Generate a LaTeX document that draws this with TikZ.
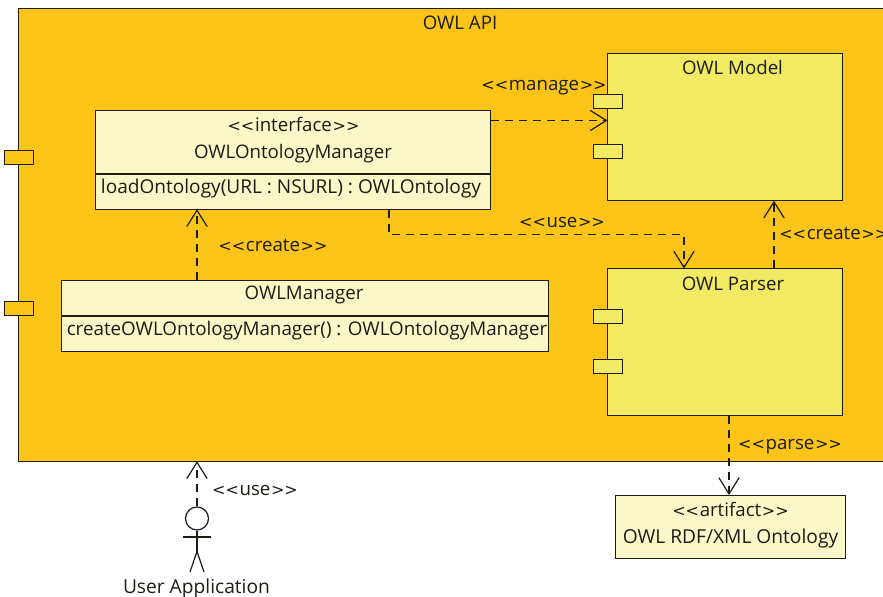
\documentclass[tikz,border=0pt]{standalone}
\usepackage{fontspec}
\setmainfont{Open Sans}
\newfontfamily\anglefont{DejaVu Sans}
\usetikzlibrary{arrows.meta}
\definecolor{apiorange}{HTML}{FBC419}
\definecolor{compyellow}{HTML}{F2EA63}
\definecolor{classyellow}{HTML}{FAF8C8}
\definecolor{ink}{HTML}{1C1C14}
\newcommand{\stereo}[1]{{\anglefont\fontsize{12}{14}\selectfont<{}<}\kern0.5pt#1\kern0.5pt{\anglefont\fontsize{12}{14}\selectfont>{}>}}
\tikzset{
  x=0.75pt,y=-0.75pt,
  every node/.style={font=\fontsize{14}{16}\selectfont,text=ink,inner sep=0pt},
  bx/.style={draw=ink,line width=0.9pt,anchor=north west,minimum width=#1*0.75pt},
  comp/.style={bx=235,fill=compyellow,minimum height=147*0.75pt},
  port/.style={draw=ink,line width=0.9pt,anchor=north west,minimum width=29*0.75pt,minimum height=14*0.75pt},
  dep/.style={draw=ink,line width=0.9pt,dash pattern=on 6pt off 4.5pt,-{Straight Barb[length=12pt,width=15pt,line width=0.9pt,round]}},
  lbl/.style={anchor=base},
  fig/.style={draw=ink,line width=0.9pt}
}
\begin{document}
\begin{tikzpicture}
\useasboundingbox (0,1) rectangle (883,598);
\clip (0,1) rectangle (883,598);
\node[bx=890,fill=apiorange,minimum height=453*0.75pt] (api) at (18,8.5) {};
\node[port,fill=apiorange] (p1) at (4,151) {};
\node[port,fill=apiorange] (p2) at (4,302) {};
\node[lbl] (apit) at (460,30) {OWL API};
% interface
\node[bx=395,fill=classyellow,minimum height=63*0.75pt] (ifh) at (95,110.5) {};
\node[bx=395,fill=classyellow,minimum height=36*0.75pt] (ifb) at (95,173.5) {};
\draw[ink,line width=1.8pt] (ifh.south west) -- (ifh.south east);
\node[lbl] (ift) at (293.5,132) {\stereo{interface}};
\node[lbl] (ifn) at (293,159) {OWLOntologyManager};
\node[lbl,font=\fontsize{14.3}{16}\selectfont] (ifm) at (291,194) {loadOntology(URL : NSURL) : OWLOntology};
% manager
\node[bx=487,fill=classyellow,minimum height=35*0.75pt] (mh) at (61,280.5) {};
\node[bx=487,fill=classyellow,minimum height=36*0.75pt] (mb) at (61,315.5) {};
\draw[ink,line width=1.8pt] (mh.south west) -- (mh.south east);
\node[lbl] (mn) at (304,300) {OWLManager};
\node[lbl,font=\fontsize{14.1}{16}\selectfont] (mm) at (307,336) {createOWLOntologyManager() : OWLOntologyManager};
% components
\node[comp] (model) at (607,54) {};
\node[port,fill=compyellow] (mp1) at (593,94.5) {};
\node[port,fill=compyellow] (mp2) at (593,144.5) {};
\node[lbl] (modelt) at (732.5,75) {OWL Model};
\node[comp] (parser) at (607,269) {};
\node[port,fill=compyellow] (pp1) at (593,310) {};
\node[port,fill=compyellow] (pp2) at (593,359.5) {};
\node[lbl] (parsert) at (733,291) {OWL Parser};
% artifact
\node[bx=230,fill=classyellow,minimum height=63*0.75pt] (art) at (615,495.5) {};
\node[lbl] (artt) at (730.5,517) {\stereo{artifact}};
\node[lbl,font=\fontsize{14.4}{16}\selectfont] (artn) at (730.5,544) {OWL RDF/XML Ontology};
% actor
\node[circle,draw=ink,line width=0.9pt,minimum size=23*0.75pt] (head) at (197,519.5) {};
\coordinate (hip) at (197,552.5);
\draw[fig] (head.south) -- (hip);
\draw[fig] (183,538) -- (211,538);
\draw[fig] (190,573) -- (hip) -- (204,573);
\node[lbl,font=\fontsize{14.4}{16}\selectfont] (actor) at (196.5,594) {User Application};
% connectors
\coordinate (bend1) at (389,235.5);
\coordinate (bend2) at (684,235.5);
\draw[dep] (ifh.east |- 0,121.5) -- (model.west |- 0,121.5);
\draw[dep] (ifb.south -| 389,0) -- (bend1) -- (bend2) -- (parser.north -| 684,0);
\draw[dep] (mh.north -| 197,0) -- (ifb.south -| 197,0);
\draw[dep] (parser.north -| 774,0) -- (model.south -| 774,0);
\draw[dep] (parser.south -| 729,0) -- (art.north -| 729,0);
\draw[dep] (head.north) -- (api.south -| 197,0);
% labels
\node[lbl] (lmanage) at (544,91) {\stereo{manage}};
\node[lbl] (luse1) at (562,228) {\stereo{use}};
\node[lbl] (lcreate1) at (273,252) {\stereo{create}};
\node[lbl,anchor=base west] (lcreate2) at (779,240) {\stereo{create}};
\node[lbl] (lparse) at (790,450) {\stereo{parse}};
\node[lbl] (luse2) at (255,496) {\stereo{use}};
\end{tikzpicture}
\end{document}
